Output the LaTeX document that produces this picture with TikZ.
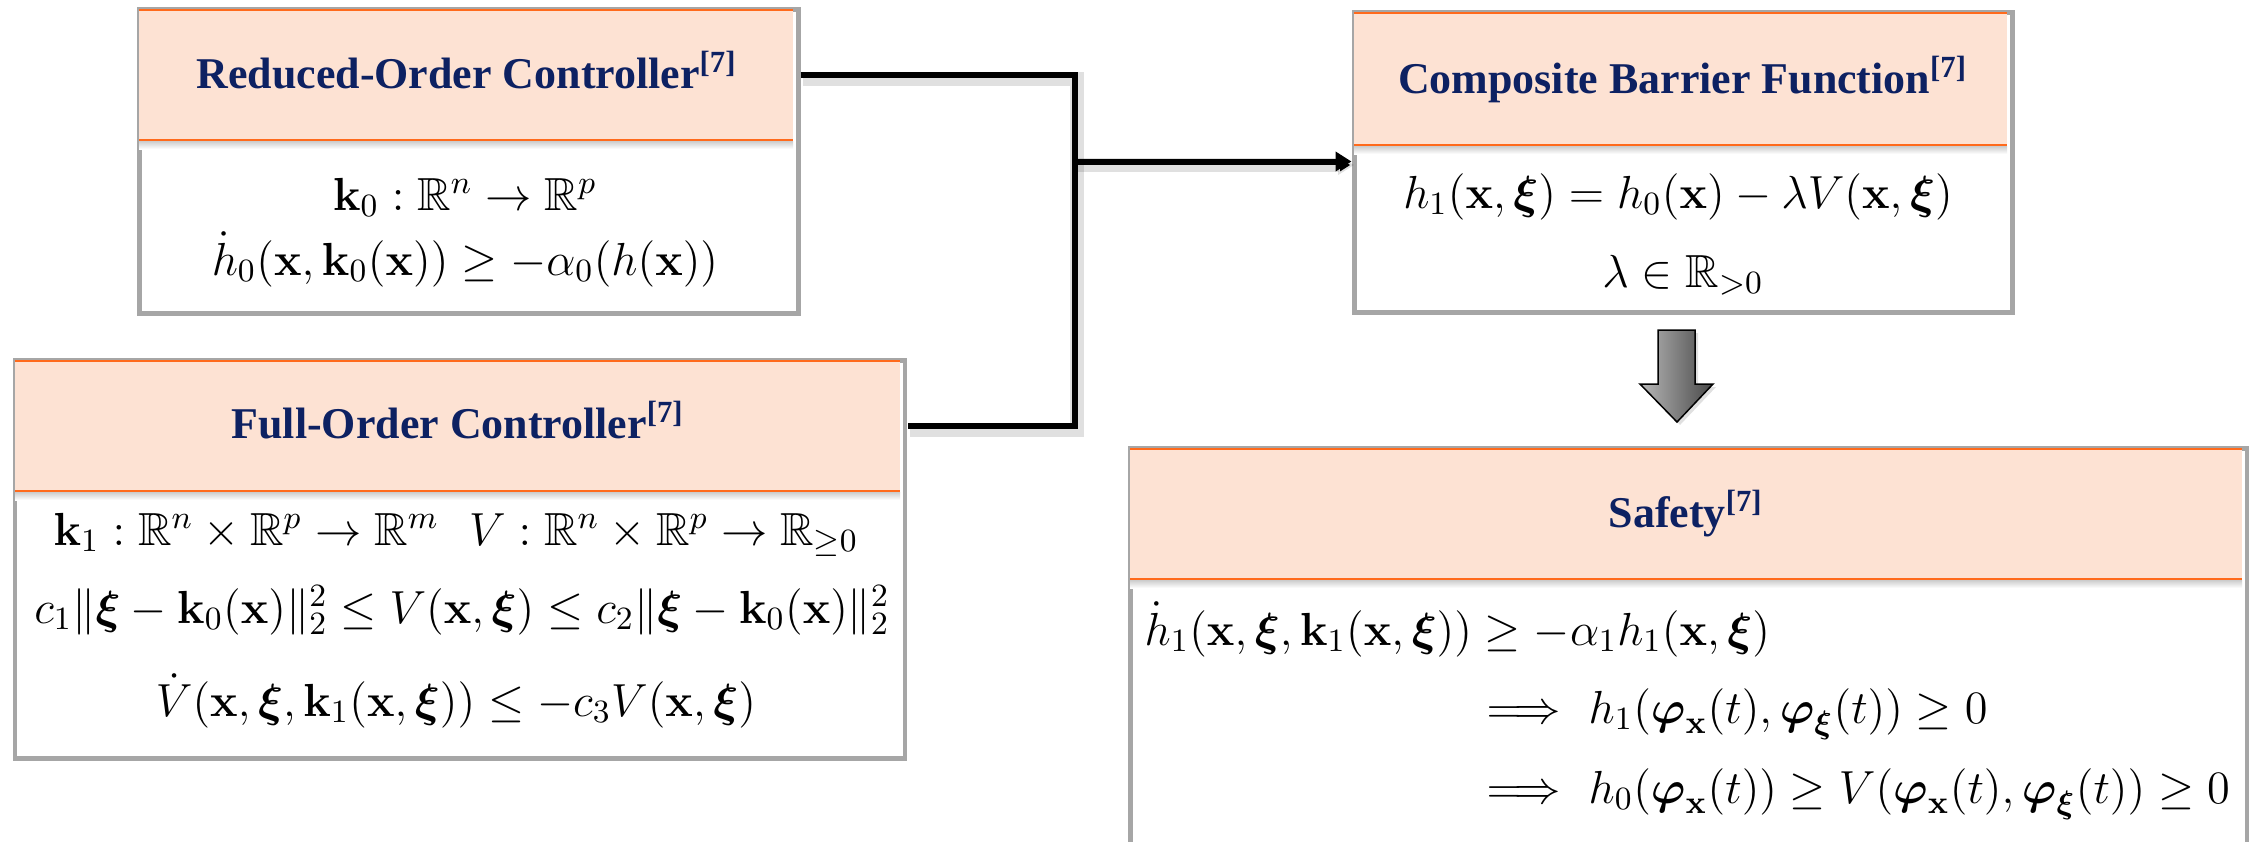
\documentclass[tikz,border=0pt]{standalone}
\usepackage{fix-cm}
\usepackage{amsmath,amssymb}
\usepackage[no-math]{fontspec}
\newfontfamily\headfont{Liberation Serif}
\usetikzlibrary{arrows.meta,calc}

\definecolor{peach}{HTML}{FDE2D3}
\definecolor{rim}{HTML}{A6A6A6}
\definecolor{tangerine}{HTML}{FF6A1C}
\definecolor{navy}{HTML}{0D2162}
\definecolor{arrowlight}{HTML}{B8B8B8}
\definecolor{arrowdark}{HTML}{484848}

\tikzset{
  frame/.style={rectangle, draw=rim, line width=0.5mm, fill=white,
    inner sep=0pt, outer sep=0.25mm, anchor=north west},
  header/.style={rectangle, fill=peach, inner sep=0pt, outer sep=0pt,
    anchor=north west},
  orangeline/.style={draw=tangerine, line width=0.2mm},
  headtitle/.style={text=navy, inner sep=0pt, anchor=base,
    font=\headfont\bfseries\fontsize{12.5}{15}\selectfont},
  eq/.style={inner sep=0pt, anchor=base, font=\fontsize{13.2}{16}\selectfont},
  eqleft/.style={eq, anchor=base west},
  conn/.style={line width=0.6mm, line join=miter, draw=black,
    preaction={draw=black, draw opacity=0.12, line width=1.4mm,
      transform canvas={shift={(0.25mm,-0.35mm)}}}},
}

% header strip with orange rules and a soft fade below it
\newcommand\headstrip[1]{%
  \draw[orangeline] ([yshift=-0.1mm]#1.north west) -- ([yshift=-0.1mm]#1.north east);
  \draw[orangeline] ([yshift=0.1mm]#1.south west) -- ([yshift=0.1mm]#1.south east);
  \shade[top color=black!20, bottom color=white]
    (#1.south west) rectangle ([yshift=-0.8mm]#1.south east);
}

\begin{document}
\begin{tikzpicture}[x=0.1mm, y=-0.1mm]
\useasboundingbox (0,0) rectangle (2249,841);
\clip (0,0) rectangle (2249,841);

% ---------- Reduced-order controller ----------
\node[frame, minimum width=65.9mm, minimum height=30.4mm] (rb) at (136.5,6.5) {};
\node[header, minimum width=65.4mm, minimum height=13.2mm] (rbh) at (139,9) {};
\headstrip{rbh}
\node[headtitle] (rbt) at (467,88) {Reduced-Order Controller\textsuperscript{[7]}};
\node[eq] (rb1) at (465,210) {$\mathbf{k}_0 : \mathbb{R}^n \to \mathbb{R}^p$};
\node[eq] (rb2) at (465,275) {$\dot h_0(\mathbf{x},\mathbf{k}_0(\mathbf{x})) \geq -\alpha_0(h(\mathbf{x}))$};

% ---------- Full-order controller ----------
\node[frame, minimum width=89.0mm, minimum height=39.8mm] (fc) at (12.5,357.5) {};
\node[header, minimum width=88.5mm, minimum height=13.2mm] (fch) at (15,360) {};
\headstrip{fch}
\node[headtitle] (fct) at (458,438) {Full-Order Controller\textsuperscript{[7]}};
\node[eq] (fc1) at (456,545) {$\mathbf{k}_1 : \mathbb{R}^n \times \mathbb{R}^p \to \mathbb{R}^m\ \ V : \mathbb{R}^n \times \mathbb{R}^p \to \mathbb{R}_{\geq 0}$};
\node[eq] (fc2) at (462,623) {$c_1\|\boldsymbol{\xi}-\mathbf{k}_0(\mathbf{x})\|_2^2 \leq V(\mathbf{x},\boldsymbol{\xi}) \leq c_2\|\boldsymbol{\xi}-\mathbf{k}_0(\mathbf{x})\|_2^2$};
\node[eq] (fc3) at (456,716) {$\dot V(\mathbf{x},\boldsymbol{\xi},\mathbf{k}_1(\mathbf{x},\boldsymbol{\xi})) \leq -c_3V(\mathbf{x},\boldsymbol{\xi})$};

% ---------- Composite barrier function ----------
\node[frame, minimum width=65.8mm, minimum height=30.0mm] (cb) at (1351.5,9.5) {};
\node[header, minimum width=65.3mm, minimum height=13.4mm] (cbh) at (1354,12) {};
\headstrip{cbh}
\node[headtitle] (cbt) at (1683,93) {Composite Barrier Function\textsuperscript{[7]}};
\node[eq] (cb1) at (1678,208) {$h_1(\mathbf{x},\boldsymbol{\xi}) = h_0(\mathbf{x}) - \lambda V(\mathbf{x},\boldsymbol{\xi})$};
\node[eq] (cb2) at (1683,287) {$\lambda \in \mathbb{R}_{>0}$};

% ---------- Safety ----------
\node[frame, minimum width=111.7mm, minimum height=50mm] (sf) at (1127.5,445.5) {};
\node[header, minimum width=111.2mm, minimum height=13.2mm] (sfh) at (1130,448) {};
\headstrip{sfh}
\node[headtitle] (sft) at (1686,527) {Safety\textsuperscript{[7]}};
\node[eqleft] (sf1) at (1144,645) {$\dot h_1(\mathbf{x},\boldsymbol{\xi},\mathbf{k}_1(\mathbf{x},\boldsymbol{\xi})) \geq -\alpha_1 h_1(\mathbf{x},\boldsymbol{\xi})$};
\node[eqleft] (sf2) at (1486,723) {$\Longrightarrow\ h_1(\boldsymbol{\varphi}_{\mathbf{x}}(t),\boldsymbol{\varphi}_{\boldsymbol{\xi}}(t)) \geq 0$};
\node[eqleft] (sf3) at (1486,803) {$\Longrightarrow\ h_0(\boldsymbol{\varphi}_{\mathbf{x}}(t)) \geq V(\boldsymbol{\varphi}_{\mathbf{x}}(t),\boldsymbol{\varphi}_{\boldsymbol{\xi}}(t)) \geq 0$};

% ---------- connectors ----------
\coordinate (jn) at (1074.5,161.5);
\draw[conn] (rbh.east -| rb.east) -| (jn) |- (fch.east -| fc.east);
\draw[conn, -{Triangle[length=1.6mm,width=1.9mm]}] (jn) -- (jn -| cb.west);

% block arrow from the barrier function down to safety
\fill[black, opacity=0.12] (1661,333) -- (1698,333) -- (1698,387) -- (1716,387)
  -- (1680,425) -- (1643,387) -- (1661,387) -- cycle;
\shadedraw[left color=arrowlight, right color=arrowdark, draw=black, line width=0.15mm,
  line join=miter]
  (1658,330) -- (1695,330) -- (1695,384) -- (1713,384) -- (1677,422)
  -- (1640,384) -- (1658,384) -- cycle;
\end{tikzpicture}
\end{document}
